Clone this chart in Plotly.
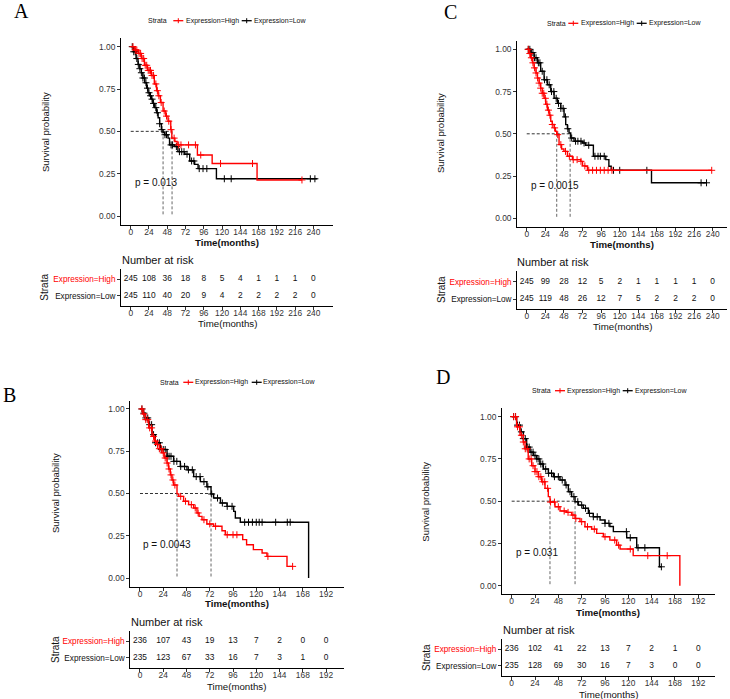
import plotly.graph_objects as go

W, H = 730, 699
RED = '#FF0000'
BLK = '#000000'
SANS = 'Liberation Sans, Arial, sans-serif'
SERIF = 'Liberation Serif, Times New Roman, serif'

# ---------------- DATA ----------------
# Panel A
A_high_t = [0, 5, 10, 14, 18, 22, 27, 31, 34, 36, 39, 42.5, 46, 49, 52.6, 54, 58, 61, 87.6, 107, 166, 225]
A_high_s = [1, 0.98, 0.96, 0.93, 0.89, 0.86, 0.83, 0.78, 0.74, 0.71, 0.67, 0.62, 0.59, 0.56, 0.51, 0.46, 0.44, 0.42, 0.36, 0.31, 0.213, 0.213]
A_low_t = [0, 4, 7, 9.6, 12, 14, 16, 18.4, 21, 22.8, 25, 27, 29, 31.5, 34, 36, 38, 40.3, 42.5, 44.7, 49, 51, 58, 62, 71, 77.5, 84, 88.5, 112.6, 245]
A_low_s = [1, 0.97, 0.93, 0.895, 0.87, 0.846, 0.815, 0.787, 0.755, 0.728, 0.71, 0.69, 0.665, 0.64, 0.61, 0.58, 0.545, 0.51, 0.495, 0.48, 0.46, 0.42, 0.41, 0.38, 0.365, 0.325, 0.305, 0.28, 0.22, 0.22]
A_high_cens = [3, 6, 8, 11, 13, 15, 17, 19, 21, 23, 25, 26, 28, 30, 33, 35, 37, 40, 44, 47, 50, 53, 57, 63, 66, 76, 85, 92, 118, 160, 225]
A_low_cens = [2, 4, 6, 8, 10, 12, 14, 16, 18, 20, 22, 24, 26, 28, 30, 33, 35, 38, 41, 45, 47, 53, 55, 60, 64, 67, 70, 74, 80, 83, 90, 95, 100, 123, 132, 236, 242]
A_medians = [54.3, 42.5]
A_pval = 'p = 0.013'
A_breaks = [0, 24, 48, 72, 96, 120, 144, 168, 192, 216, 240]
A_risk_high = [245, 108, 36, 18, 8, 5, 4, 1, 1, 1, 0]
A_risk_low = [245, 110, 40, 20, 9, 4, 2, 2, 2, 2, 0]

# Panel C
C_high_t = [0, 3, 5, 7.5, 9.5, 12, 13.8, 16, 18, 20, 22.4, 24.5, 26.7, 29, 31, 33, 35.3, 37, 38.7, 41.7, 45, 48, 52.5, 59, 69.7, 72, 76, 78.3, 238.7]
C_high_s = [1, 0.975, 0.95, 0.92, 0.89, 0.86, 0.83, 0.80, 0.77, 0.74, 0.71, 0.675, 0.64, 0.61, 0.574, 0.555, 0.535, 0.515, 0.495, 0.436, 0.41, 0.396, 0.367, 0.347, 0.337, 0.31, 0.308, 0.284, 0.284]
C_low_t = [0, 5, 9.5, 13.8, 18, 22.4, 26.7, 31, 35.3, 39.6, 43.9, 48.2, 50.3, 52.5, 54.6, 56.8, 61, 72, 76, 86, 102, 106, 109, 161, 232]
C_low_s = [1, 0.98, 0.95, 0.92, 0.87, 0.82, 0.79, 0.75, 0.71, 0.68, 0.65, 0.60, 0.554, 0.53, 0.505, 0.475, 0.456, 0.446, 0.432, 0.367, 0.347, 0.308, 0.284, 0.21, 0.21]
C_high_cens = [2, 4, 6, 8, 10, 12, 14, 16, 18, 20, 22, 24, 26, 28, 30, 33, 36, 40, 44, 50, 55, 60, 65, 70, 75, 80, 85, 90, 95, 100, 105, 110, 238.7]
C_low_cens = [2, 4, 6, 8, 10, 12, 15, 17, 20, 23, 26, 29, 32, 35, 38, 41, 44, 47, 50, 53, 58, 63, 66, 70, 74, 80, 88, 92, 95, 100, 112, 120, 155, 225, 232]
C_medians = [38.7, 56.0]
C_pval = 'p = 0.0015'
C_breaks = [0, 24, 48, 72, 96, 120, 144, 168, 192, 216, 240]
C_risk_high = [245, 99, 28, 12, 5, 2, 1, 1, 1, 1, 0]
C_risk_low = [245, 119, 48, 26, 12, 7, 5, 2, 2, 2, 0]

# Panel B
B_high_t = [0, 3, 5.5, 9, 12.4, 15, 17.5, 20, 22.7, 25, 27.9, 29.5, 31.3, 33, 34.7, 38.2, 40, 45, 50.2, 55.4, 58.8, 61, 64, 69, 76, 84.6, 88, 106, 110, 117, 126, 131, 151.7, 157.5]
B_high_s = [1, 0.97, 0.937, 0.888, 0.838, 0.81, 0.79, 0.765, 0.74, 0.71, 0.68, 0.645, 0.61, 0.58, 0.55, 0.498, 0.483, 0.454, 0.434, 0.414, 0.385, 0.365, 0.345, 0.32, 0.306, 0.28, 0.256, 0.227, 0.197, 0.168, 0.148, 0.128, 0.069, 0.069]
B_low_t = [0, 3, 5.5, 9, 12.4, 15.8, 21, 27.9, 34.7, 41.6, 48.5, 55.4, 62.3, 69, 73.3, 76, 83, 89.8, 96.7, 98.4, 103.5, 174]
B_low_s = [1, 0.975, 0.947, 0.907, 0.848, 0.80, 0.76, 0.72, 0.69, 0.66, 0.64, 0.60, 0.57, 0.54, 0.497, 0.473, 0.444, 0.424, 0.394, 0.355, 0.33, 0.0]
B_high_cens = [2, 4, 6, 8, 10, 12, 14, 16, 18, 20, 22, 24, 26, 28, 30, 32, 34, 36, 42, 47, 53, 57, 60, 66, 72, 78, 90, 96, 100, 132, 157.5]
B_low_cens = [2, 4, 6, 8, 10, 12, 14, 16, 18, 20, 22, 24, 26, 28, 30, 32, 35, 38, 42, 46, 50, 54, 58, 62, 66, 70, 74, 80, 85, 90, 95, 108, 112, 116, 120, 123, 126, 140, 152, 155]
B_medians = [38.2, 73.3]
B_pval = 'p = 0.0043'
B_breaks = [0, 24, 48, 72, 96, 120, 144, 168, 192]
B_risk_high = [236, 107, 43, 19, 13, 7, 2, 0, 0]
B_risk_low = [235, 123, 67, 33, 16, 7, 3, 1, 0]

# Panel D
D_high_t = [0, 5.1, 8.6, 12, 13.7, 17, 20.6, 24, 27.4, 30.9, 34.3, 37.7, 39.4, 44.6, 49.7, 56.6, 61.7, 65.2, 70.3, 75.4, 82.3, 87.4, 94.3, 101, 108, 111.5, 125, 173]
D_high_s = [1, 0.94, 0.89, 0.85, 0.81, 0.75, 0.71, 0.675, 0.645, 0.615, 0.576, 0.527, 0.495, 0.467, 0.442, 0.434, 0.418, 0.398, 0.379, 0.349, 0.335, 0.31, 0.29, 0.27, 0.24, 0.217, 0.178, 0.0]
D_low_t = [0, 5.1, 8.6, 12, 15.4, 18.9, 22.3, 25.7, 29, 32.6, 37.7, 42.9, 49.7, 54.9, 58.3, 61.7, 65.2, 68.6, 73.7, 78.9, 84, 90.9, 96, 101, 104.6, 118.3, 128.6, 152, 154]
D_low_s = [1, 0.95, 0.91, 0.87, 0.82, 0.79, 0.77, 0.75, 0.72, 0.69, 0.665, 0.645, 0.625, 0.596, 0.556, 0.527, 0.497, 0.477, 0.458, 0.428, 0.408, 0.389, 0.369, 0.35, 0.32, 0.284, 0.225, 0.112, 0.112]
D_high_cens = [2, 4, 6, 8, 10, 12, 14, 16, 18, 20, 22, 24, 26, 28, 30, 32, 34, 37, 40, 44, 48, 54, 58, 63, 66, 72, 78, 85, 96, 106, 110, 122, 140, 160]
D_low_cens = [2, 4, 6, 8, 10, 12, 14, 16, 18, 20, 22, 24, 26, 28, 30, 32, 35, 38, 41, 44, 48, 52, 56, 60, 64, 68, 72, 76, 80, 84, 88, 96, 100, 118, 122, 130, 137, 154]
D_medians = [39.4, 65.2]
D_pval = 'p = 0.031'
D_breaks = [0, 24, 48, 72, 96, 120, 144, 168, 192]
D_risk_high = [236, 102, 41, 22, 13, 7, 2, 1, 0]
D_risk_low = [235, 128, 69, 30, 16, 7, 3, 0, 0]

strata_labels = ['Expression=High', 'Expression=Low']
y_ticks = [0, 0.25, 0.5, 0.75, 1.0]
y_ticktext = ['0.00', '0.25', '0.50', '0.75', '1.00']

# ---------------- LAYOUT (pixel positions) ----------------
panels = [
    dict(letter='A', letter_xy=(21, 11),
         high=(A_high_t, A_high_s, A_high_cens), low=(A_low_t, A_low_s, A_low_cens),
         med=A_medians, pval=A_pval, breaks=A_breaks, rh=A_risk_high, rl=A_risk_low,
         xr=[-12.65, 265.65], xdom=(121.1, 332.9), ydom=(38.2, 224.5), tdom=(269.3, 306.0),
         leg=(148, 20.7, 173.3, 186, 241.7, 254), ylab=(45, 132), xlab_y=242.7,
         nar=(121.7, 260), strata=(45, 287.7), txlab_y=323.3, p=(135, 182.7)),
    dict(letter='C', letter_xy=(450, 12),
         high=(C_high_t, C_high_s, C_high_cens), low=(C_low_t, C_low_s, C_low_cens),
         med=C_medians, pval=C_pval, breaks=C_breaks, rh=C_risk_high, rl=C_risk_low,
         xr=[-12.3, 258.3], xdom=(517.2, 726.9), ydom=(40.85, 226.75), tdom=(271.3, 309.4),
         leg=(546.7, 23.3, 568.3, 581, 636.7, 649), ylab=(440, 133), xlab_y=244.3,
         nar=(516.7, 262.3), strata=(441, 290), txlab_y=326.7, p=(530.7, 185)),
    dict(letter='B', letter_xy=(9, 395),
         high=(B_high_t, B_high_s, B_high_cens), low=(B_low_t, B_low_s, B_low_cens),
         med=B_medians, pval=B_pval, breaks=B_breaks, rh=B_risk_high, rl=B_risk_low,
         xr=[-10, 210], xdom=(130.3, 343.5), ydom=(400.5, 586.5), tdom=(631.0, 667.7),
         leg=(160, 382.3, 183.3, 195, 251.7, 263.3), ylab=(55, 493), xlab_y=603.3,
         nar=(130.7, 621.7), strata=(55, 650), txlab_y=686, p=(143, 544)),
    dict(letter='D', letter_xy=(443, 377.5),
         high=(D_high_t, D_high_s, D_high_cens), low=(D_low_t, D_low_s, D_low_cens),
         med=D_medians, pval=D_pval, breaks=D_breaks, rh=D_risk_high, rl=D_risk_low,
         xr=[-9.95, 208.95], xdom=(502.0, 714.8), ydom=(408.2, 594.2), tdom=(639.3, 676.0),
         leg=(531.7, 390.7, 555, 566.7, 622.7, 635), ylab=(426, 501.7), xlab_y=612.3,
         nar=(502.7, 630), strata=(426.7, 657.3), txlab_y=694, p=(515.7, 552.3)),
]


def px(x):
    return x / W


def py(y):
    return 1 - y / H


def step_at(ts, ss, t):
    v = ss[0]
    for ti, si in zip(ts, ss):
        if ti <= t:
            v = si
    return v


fig = go.Figure()
layout = dict(width=W, height=H, margin=dict(l=0, r=0, t=0, b=0),
              paper_bgcolor='white', plot_bgcolor='white', showlegend=False,
              font=dict(family=SANS, color='#222'))
annotations = []
shapes = []

axis_common = dict(showline=True, linecolor='black', linewidth=1, ticks='outside',
                   ticklen=3, tickwidth=1, tickcolor='#333', showgrid=False, zeroline=False,
                   tickfont=dict(family=SANS, size=8.4, color='#333'), fixedrange=True)

for i, P in enumerate(panels):
    mi = 2 * i + 1
    ti = 2 * i + 2
    mx = 'x' if mi == 1 else f'x{mi}'
    my = 'y' if mi == 1 else f'y{mi}'
    tx, ty = f'x{ti}', f'y{ti}'
    mxk = 'xaxis' if mi == 1 else f'xaxis{mi}'
    myk = 'yaxis' if mi == 1 else f'yaxis{mi}'

    layout[mxk] = dict(axis_common, domain=[px(P['xdom'][0]), px(P['xdom'][1])], range=P['xr'],
                       tickvals=P['breaks'], anchor=my, ticklabelstandoff=-4)
    layout[myk] = dict(axis_common, domain=[py(P['ydom'][1]), py(P['ydom'][0])], range=[-0.05, 1.05],
                       tickvals=y_ticks, ticktext=y_ticktext, anchor=mx)
    layout[f'xaxis{ti}'] = dict(axis_common, domain=[px(P['xdom'][0]), px(P['xdom'][1])], range=P['xr'],
                                tickvals=P['breaks'], anchor=ty, ticklabelstandoff=-4)
    layout[f'yaxis{ti}'] = dict(axis_common, domain=[py(P['tdom'][1]), py(P['tdom'][0])], range=[0.4, 2.6],
                                tickvals=[2, 1],
                                ticktext=[f'<span style="color:{RED}">{strata_labels[0]}</span>', strata_labels[1]],
                                tickfont=dict(family=SANS, size=8.2, color='#111'), anchor=tx)

    # median lines
    med = P['med']
    fig.add_trace(go.Scatter(x=[0, max(med)], y=[0.5, 0.5], mode='lines', xaxis=mx, yaxis=my,
                             line=dict(color='#333', width=1, dash='3px,2px'), hoverinfo='skip'))
    for m in med:
        fig.add_trace(go.Scatter(x=[m, m], y=[0.5, 0], mode='lines', xaxis=mx, yaxis=my,
                                 line=dict(color='#666', width=1, dash='3px,2px'), hoverinfo='skip'))

    # curves
    for (ts, ss, cens), col in [(P['low'], BLK), (P['high'], RED)]:
        fig.add_trace(go.Scatter(x=ts, y=ss, mode='lines', line=dict(color=col, width=1.4, shape='hv'),
                                 xaxis=mx, yaxis=my, hoverinfo='skip'))
        fig.add_trace(go.Scatter(x=cens, y=[step_at(ts, ss, c) for c in cens], mode='markers',
                                 marker=dict(symbol='cross-thin', size=5, line=dict(color=col, width=1)),
                                 xaxis=mx, yaxis=my, hoverinfo='skip'))

    # risk table
    fig.add_trace(go.Scatter(x=P['breaks'], y=[2] * len(P['breaks']), text=[str(v) for v in P['rh']],
                             mode='text', textfont=dict(family=SANS, size=8.4, color='#111'),
                             xaxis=tx, yaxis=ty, hoverinfo='skip'))
    fig.add_trace(go.Scatter(x=P['breaks'], y=[1] * len(P['breaks']), text=[str(v) for v in P['rl']],
                             mode='text', textfont=dict(family=SANS, size=8.4, color='#111'),
                             xaxis=tx, yaxis=ty, hoverinfo='skip'))

    xc = (P['xdom'][0] + P['xdom'][1]) / 2

    def ann(text, x, y, size, xanchor='center', angle=0, bold=False, family=SANS, color='#111'):
        annotations.append(dict(text=f'<b>{text}</b>' if bold else text, x=px(x), y=py(y),
                                xref='paper', yref='paper', xanchor=xanchor, yanchor='middle',
                                showarrow=False, textangle=angle,
                                font=dict(family=family, size=size, color=color)))

    ann(P['letter'], P['letter_xy'][0], P['letter_xy'][1], 20, family=SERIF, color='black')
    ann('Survival probability', P['ylab'][0], P['ylab'][1], 9.5, angle=-90)
    ann('Time(months)', xc, P['xlab_y'], 9.7, bold=True)
    ann('Number at risk', P['nar'][0] - 2, P['nar'][1], 11, xanchor='left')
    ann('Strata', P['strata'][0], P['strata'][1], 10, angle=-90)
    ann('Time(months)', xc, P['txlab_y'], 9.7)
    ann(P['pval'], P['p'][0] - 2, P['p'][1], 10, xanchor='left')

    # legend (drawn manually)
    sx, ly, l1, t1, l2, t2 = P['leg']
    ann('Strata', sx - 2, ly, 7, xanchor='left')
    ann(strata_labels[0], t1 - 2, ly, 7, xanchor='left')
    ann(strata_labels[1], t2 - 2, ly, 7, xanchor='left')
    for lx, col in [(l1, RED), (l2, BLK)]:
        shapes.append(dict(type='line', xref='paper', yref='paper', x0=px(lx), x1=px(lx + 10),
                           y0=py(ly), y1=py(ly), line=dict(color=col, width=1.3)))
        shapes.append(dict(type='line', xref='paper', yref='paper', x0=px(lx + 5), x1=px(lx + 5),
                           y0=py(ly - 2.5), y1=py(ly + 2.5), line=dict(color=col, width=1)))

layout['annotations'] = annotations
layout['shapes'] = shapes
fig.update_layout(**layout)
fig.write_html('out.html', config={'displayModeBar': False},
               post_script="document.body.style.margin='0px';")
